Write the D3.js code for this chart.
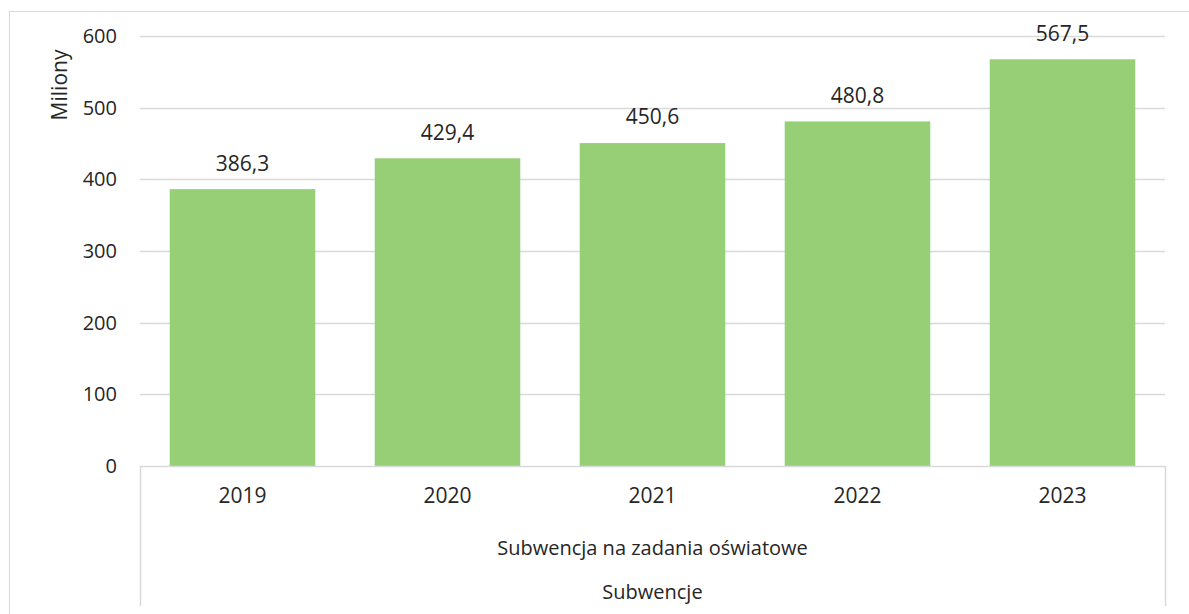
<!DOCTYPE html>
<html>
<head>
<meta charset="utf-8">
<script src="https://cdn.jsdelivr.net/npm/d3@7"></script>
<style>
  body { margin: 0; background: #fff; }
  text { font-family: "Open Sans", sans-serif; fill: #262626; }
</style>
</head>
<body>
<svg id="chart" width="1189" height="614"></svg>
<script>
var years = ["2019", "2020", "2021", "2022", "2023"];
var values = [386.3, 429.4, 450.6, 480.8, 567.5];
var yTicks = [0, 100, 200, 300, 400, 500, 600];
var groupLabel = "Subwencja na zadania oświatowe";
var outerLabel = "Subwencje";
var yTitle = "Miliony";

var svg = d3.select("#chart"),
    plotLeft = 140, plotRight = 1165, plotTop = 36, plotBottom = 466;

// chart frame
svg.append("rect")
    .attr("x", 9.5).attr("y", 11.5)
    .attr("width", 1200).attr("height", 620)
    .attr("fill", "none").attr("stroke", "#d9d9d9");

var x = d3.scaleBand().domain(years).range([plotLeft, plotRight]).paddingInner(0.29).paddingOuter(0.145);
var y = d3.scaleLinear().domain([0, 600]).range([plotBottom, plotTop]);

// gridlines
svg.append("g").selectAll("line")
    .data(yTicks.filter(function(d) { return d > 0; }))
    .enter().append("line")
    .attr("x1", plotLeft).attr("x2", plotRight)
    .attr("y1", function(d) { return Math.round(y(d)) + 0.5; })
    .attr("y2", function(d) { return Math.round(y(d)) + 0.5; })
    .attr("stroke", "#d9d9d9").attr("stroke-width", 1.5);

// y tick labels
svg.append("g").selectAll("text")
    .data(yTicks).enter().append("text")
    .attr("x", 117).attr("y", function(d) { return y(d); })
    .attr("dy", "0.35em")
    .attr("text-anchor", "end")
    .style("font-size", "20px")
    .text(function(d) { return d; });

svg.append("text")
    .attr("transform", "translate(67,85) rotate(-90)")
    .attr("text-anchor", "middle")
    .style("font-size", "21px")
    .text(yTitle);

// bars
svg.append("g").selectAll("rect")
    .data(values).enter().append("rect")
    .attr("x", function(d, i) { return x(years[i]); })
    .attr("width", x.bandwidth())
    .attr("y", function(d) { return y(d); })
    .attr("height", function(d) { return y(0) - y(d); })
    .attr("fill", "#97cf77");

// value labels
svg.append("g").selectAll("text")
    .data(values).enter().append("text")
    .attr("x", function(d, i) { return x(years[i]) + x.bandwidth() / 2; })
    .attr("y", function(d) { return y(d) - 26; })
    .attr("dy", "0.35em")
    .attr("text-anchor", "middle")
    .style("font-size", "21px")
    .text(function(d) { return d.toFixed(1).replace(".", ","); });

// category axis
var axisColor = "#d9d9d9";
svg.append("line").attr("x1", plotLeft).attr("x2", plotRight).attr("y1", plotBottom + 0.5).attr("y2", plotBottom + 0.5)
    .attr("stroke", axisColor).attr("stroke-width", 1.5);
[plotLeft, plotRight].forEach(function(px) {
  svg.append("line").attr("x1", px + 0.5).attr("x2", px + 0.5).attr("y1", plotBottom).attr("y2", 606)
      .attr("stroke", axisColor).attr("stroke-width", 1.5);
});

svg.append("g").selectAll("text")
    .data(years).enter().append("text")
    .attr("x", function(d) { return x(d) + x.bandwidth() / 2; })
    .attr("y", 496).attr("dy", "0.35em")
    .attr("text-anchor", "middle")
    .style("font-size", "21px")
    .text(function(d) { return d; });

svg.append("text")
    .attr("x", (plotLeft + plotRight) / 2).attr("y", 548).attr("dy", "0.35em")
    .attr("text-anchor", "middle").style("font-size", "20px")
    .text(groupLabel);

svg.append("text")
    .attr("x", (plotLeft + plotRight) / 2).attr("y", 592).attr("dy", "0.35em")
    .attr("text-anchor", "middle").style("font-size", "20px")
    .text(outerLabel);
</script>
</body>
</html>
